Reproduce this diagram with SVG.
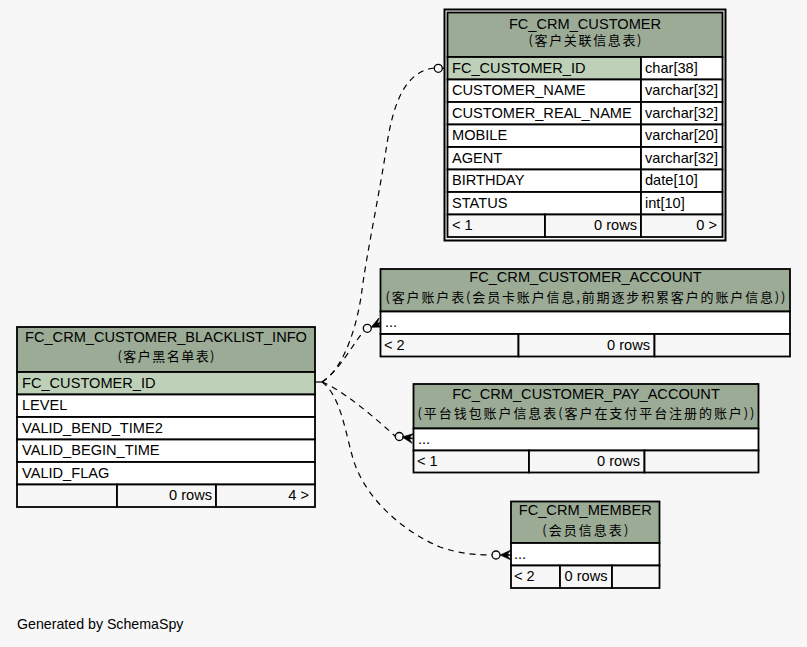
<svg xmlns="http://www.w3.org/2000/svg" width="807" height="647" viewBox="0 0 807 647">
  <style>
    text { font-family: "Liberation Sans", Arial, sans-serif; font-size: 14.6px; fill: #000; }
    .cjk { font-family: "Noto Sans CJK SC", "Liberation Sans", sans-serif; font-size: 13px; }
    .mid { text-anchor: middle; }
    .end { text-anchor: end; }
    .hdr { fill: #9bab96; stroke: #000; stroke-width: 1.8; }
    .pk { fill: #bed1b8; stroke: #000; stroke-width: 1.8; }
    .cell { fill: #ffffff; stroke: #000; stroke-width: 1.8; }
    .ft { fill: #f7f7f7; stroke: #000; stroke-width: 1.8; }
    .rel { fill: none; stroke: #000; stroke-width: 1.2; stroke-dasharray: 6 5; }
    .solid { fill: none; stroke: #000; stroke-width: 1.2; }
    .dot { fill: #f7f7f7; stroke: #000; stroke-width: 1.3; }
  </style>
  <defs>
    <!-- crow's foot pointing to +x, toes at x=0 -->
    <path id="crow" d="M-11,0 L0,-5 L-3.5,-1 L0,0 L-3.5,1 L0,5 Z" fill="#000" stroke="#000" stroke-width="0.6"/>
  </defs>
  <rect width="807" height="647" fill="#f7f7f7"/>

  <!-- relationships -->
  <g id="connectors">
    <path class="solid" d="M315,382 L324,382"/>
    <path class="rel" d="M322,382 C345,368 358,322 362,290 C366,258 380,190 386,150 C392,110 402,72 434,68"/>
    <path class="rel" d="M322,382 C340,370 352,345 364,331"/>
    <path class="rel" d="M322,382 C342,390 372,415 395,436"/>
    <path class="rel" d="M322,382 C340,395 345,430 352,455 C362,495 400,530 440,547 C460,554 478,555 492,555"/>
    <!-- FC_CRM_CUSTOMER end -->
    <circle class="dot" cx="438.3" cy="68.3" r="4"/>
    <line class="solid" x1="442" y1="68.3" x2="445" y2="68.3"/>
    <!-- FC_CRM_CUSTOMER_ACCOUNT end -->
    <circle class="dot" cx="367.3" cy="328.3" r="4"/>
    <use href="#crow" transform="translate(381,322.5) rotate(-26)"/>
    <!-- FC_CRM_CUSTOMER_PAY_ACCOUNT end -->
    <circle class="dot" cx="399.3" cy="436.5" r="4"/>
    <use href="#crow" transform="translate(413,438.5) rotate(8)"/>
    <!-- FC_CRM_MEMBER end -->
    <circle class="dot" cx="496" cy="555" r="4"/>
    <use href="#crow" transform="translate(511,555)"/>
  </g>

  <g id="FC_CRM_CUSTOMER">
    <rect x="444.5" y="9.5" width="281" height="231" fill="none" stroke="#000" stroke-width="2"/>
    <rect class="hdr" x="447.5" y="12.5" width="275" height="44.5"/>
    <text class="mid" x="585" y="28.5">FC_CRM_CUSTOMER</text>
    <text class="cjk mid" x="585" y="45" textLength="113">(客户关联信息表)</text>
    <rect class="pk" x="447.5" y="57" width="193.5" height="22.5"/>
    <rect class="cell" x="641" y="57" width="81.5" height="22.5"/>
    <rect class="cell" x="447.5" y="79.5" width="193.5" height="22.5"/>
    <rect class="cell" x="641" y="79.5" width="81.5" height="22.5"/>
    <rect class="cell" x="447.5" y="102" width="193.5" height="22.5"/>
    <rect class="cell" x="641" y="102" width="81.5" height="22.5"/>
    <rect class="cell" x="447.5" y="124.5" width="193.5" height="22.5"/>
    <rect class="cell" x="641" y="124.5" width="81.5" height="22.5"/>
    <rect class="cell" x="447.5" y="147" width="193.5" height="22.5"/>
    <rect class="cell" x="641" y="147" width="81.5" height="22.5"/>
    <rect class="cell" x="447.5" y="169.5" width="193.5" height="22.5"/>
    <rect class="cell" x="641" y="169.5" width="81.5" height="22.5"/>
    <rect class="cell" x="447.5" y="192" width="193.5" height="22.5"/>
    <rect class="cell" x="641" y="192" width="81.5" height="22.5"/>
    <rect class="ft" x="447.5" y="214.5" width="97.5" height="22.5"/>
    <rect class="ft" x="545" y="214.5" width="96" height="22.5"/>
    <rect class="ft" x="641" y="214.5" width="81.5" height="22.5"/>
    <text x="452" y="72.5">FC_CUSTOMER_ID</text>
    <text x="645" y="72.5">char[38]</text>
    <text x="452" y="95">CUSTOMER_NAME</text>
    <text x="645" y="95">varchar[32]</text>
    <text x="452" y="117.5">CUSTOMER_REAL_NAME</text>
    <text x="645" y="117.5">varchar[32]</text>
    <text x="452" y="140">MOBILE</text>
    <text x="645" y="140">varchar[20]</text>
    <text x="452" y="162.5">AGENT</text>
    <text x="645" y="162.5">varchar[32]</text>
    <text x="452" y="185">BIRTHDAY</text>
    <text x="645" y="185">date[10]</text>
    <text x="452" y="207.5">STATUS</text>
    <text x="645" y="207.5">int[10]</text>
    <text x="452" y="230">&lt; 1</text>
    <text class="end" x="637" y="230">0 rows</text>
    <text class="end" x="717" y="230">0 &gt;</text>
  </g>

  <g id="FC_CRM_CUSTOMER_ACCOUNT">
    <rect class="hdr" x="380.5" y="269" width="409.5" height="42.5"/>
    <text class="mid" x="585.5" y="282">FC_CRM_CUSTOMER_ACCOUNT</text>
    <text class="cjk mid" x="585.5" y="301.5" textLength="400">(客户账户表(会员卡账户信息,前期逐步积累客户的账户信息))</text>
    <rect class="cell" x="380.5" y="311.5" width="409.5" height="22.5"/>
    <rect class="ft" x="380.5" y="334" width="138" height="22.5"/>
    <rect class="ft" x="518.5" y="334" width="136" height="22.5"/>
    <rect class="ft" x="654.5" y="334" width="135.5" height="22.5"/>
    <text x="385" y="327">...</text>
    <text x="384" y="349.5">&lt; 2</text>
    <text class="end" x="650" y="349.5">0 rows</text>
  </g>

  <g id="FC_CRM_CUSTOMER_PAY_ACCOUNT">
    <rect class="hdr" x="413.5" y="384" width="345" height="44.5"/>
    <text class="mid" x="586" y="398.5">FC_CRM_CUSTOMER_PAY_ACCOUNT</text>
    <text class="cjk mid" x="586" y="417.5" textLength="337">(平台钱包账户信息表(客户在支付平台注册的账户))</text>
    <rect class="cell" x="413.5" y="428.5" width="345" height="22"/>
    <rect class="ft" x="413.5" y="450.5" width="115.5" height="22"/>
    <rect class="ft" x="529" y="450.5" width="115.5" height="22"/>
    <rect class="ft" x="644.5" y="450.5" width="114" height="22"/>
    <text x="418" y="443.5">...</text>
    <text x="417" y="465.5">&lt; 1</text>
    <text class="end" x="640" y="465.5">0 rows</text>
  </g>

  <g id="FC_CRM_MEMBER">
    <rect class="hdr" x="511" y="501.5" width="148.5" height="41.5"/>
    <text class="mid" x="585.3" y="515">FC_CRM_MEMBER</text>
    <text class="cjk mid" x="585.3" y="534.5" textLength="86">(会员信息表)</text>
    <rect class="cell" x="511" y="543" width="148.5" height="22.5"/>
    <rect class="ft" x="511" y="565.5" width="49" height="22.5"/>
    <rect class="ft" x="560" y="565.5" width="52" height="22.5"/>
    <rect class="ft" x="612" y="565.5" width="47.5" height="22.5"/>
    <text x="514" y="558.5">...</text>
    <text x="514" y="581">&lt; 2</text>
    <text class="end" x="607.5" y="581">0 rows</text>
  </g>

  <g id="FC_CRM_CUSTOMER_BLACKLIST_INFO">
    <rect class="hdr" x="17" y="327" width="298" height="45"/>
    <text class="mid" x="166" y="342">FC_CRM_CUSTOMER_BLACKLIST_INFO</text>
    <text class="cjk mid" x="166" y="361" textLength="97">(客户黑名单表)</text>
    <rect class="pk" x="17" y="372" width="298" height="22.5"/>
    <rect class="cell" x="17" y="394.5" width="298" height="22.5"/>
    <rect class="cell" x="17" y="417" width="298" height="22.5"/>
    <rect class="cell" x="17" y="439.5" width="298" height="22.5"/>
    <rect class="cell" x="17" y="462" width="298" height="22.5"/>
    <rect class="ft" x="17" y="484.5" width="100" height="22.5"/>
    <rect class="ft" x="117" y="484.5" width="99" height="22.5"/>
    <rect class="ft" x="216" y="484.5" width="99" height="22.5"/>
    <text x="22" y="387.5">FC_CUSTOMER_ID</text>
    <text x="22" y="410">LEVEL</text>
    <text x="22" y="432.5">VALID_BEND_TIME2</text>
    <text x="22" y="455">VALID_BEGIN_TIME</text>
    <text x="22" y="477.5">VALID_FLAG</text>
    <text class="end" x="212" y="500">0 rows</text>
    <text class="end" x="309" y="500">4 &gt;</text>
  </g>

  <text x="17" y="629" style="font-size:14.2px">Generated by SchemaSpy</text>
</svg>
